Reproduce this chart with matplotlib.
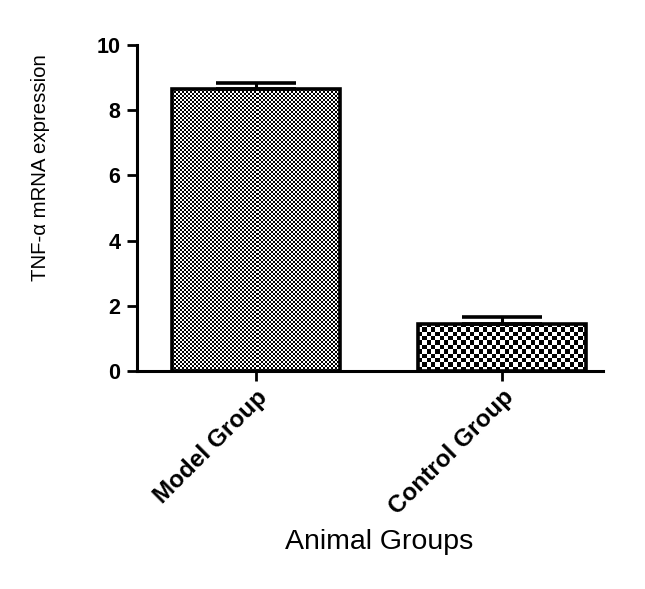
import numpy as np
import matplotlib
matplotlib.use('Agg')
import matplotlib.pyplot as plt

plt.rcParams['font.family'] = ['Liberation Sans', 'DejaVu Sans']

groups = ['Model Group', 'Control Group']
means = [8.65, 1.45]
errors = [0.2, 0.2]
# checker cell size in pixels for each bar's fill
cell_px = [2.0, 4.3]

fig = plt.figure(figsize=(6.45, 5.89), dpi=100)
ax = fig.add_axes([0.2124, 0.370, 0.7225, 0.5535])

x = np.arange(len(groups))
width = 0.683
bars = ax.bar(x, means, width=width, facecolor='none', edgecolor='black',
              linewidth=2.6, zorder=3)
ax.errorbar(x, means, yerr=[np.zeros(len(errors)), errors], fmt='none',
            ecolor='black', elinewidth=2.2, capsize=29, capthick=2.6, zorder=2)

ax.set_xlim(-0.484, 1.41)
ax.set_ylim(0, 10)

# checkerboard fill, clipped to each bar
fig.canvas.draw()
for bar, cp in zip(bars, cell_px):
    bx, by = bar.get_x(), bar.get_y()
    bw, bh = bar.get_width(), bar.get_height()
    p0 = ax.transData.transform((bx, by))
    p1 = ax.transData.transform((bx + bw, by + bh))
    nx = max(int(round((p1[0] - p0[0]) / cp)), 1)
    ny = max(int(round((p1[1] - p0[1]) / cp)), 1)
    board = (np.indices((ny, nx)).sum(axis=0) % 2).astype(float)
    im = ax.imshow(board, cmap='gray', vmin=0, vmax=1, interpolation='nearest',
                   extent=(bx, bx + bw, by, by + bh), aspect='auto', zorder=1)
    im.set_clip_path(bar)

ax.set_xlim(-0.484, 1.41)
ax.set_ylim(0, 10)

ax.set_xticks(x)
ax.set_xticklabels(groups, rotation=45, ha='right', rotation_mode='anchor',
                   fontsize=17.5, fontweight='bold')
ax.set_yticks(np.arange(0, 11, 2))
ax.set_yticklabels([str(v) for v in range(0, 11, 2)], fontsize=15.5, fontweight='bold')
ax.tick_params(axis='both', width=2, length=7, direction='out')
ax.tick_params(axis='y', pad=5)

for side in ['top', 'right']:
    ax.spines[side].set_visible(False)
for side in ['left', 'bottom']:
    ax.spines[side].set_linewidth(2.2)

ax.set_ylabel('TNF-α mRNA expression', fontsize=14.7, va='center')
ax.yaxis.set_label_coords(-0.208, 0.623)
ax.set_xlabel('Animal Groups', fontsize=20.5, va='center')
ax.xaxis.set_label_coords(0.519, -0.525)

fig.savefig('out.png', dpi=100, facecolor='white')
